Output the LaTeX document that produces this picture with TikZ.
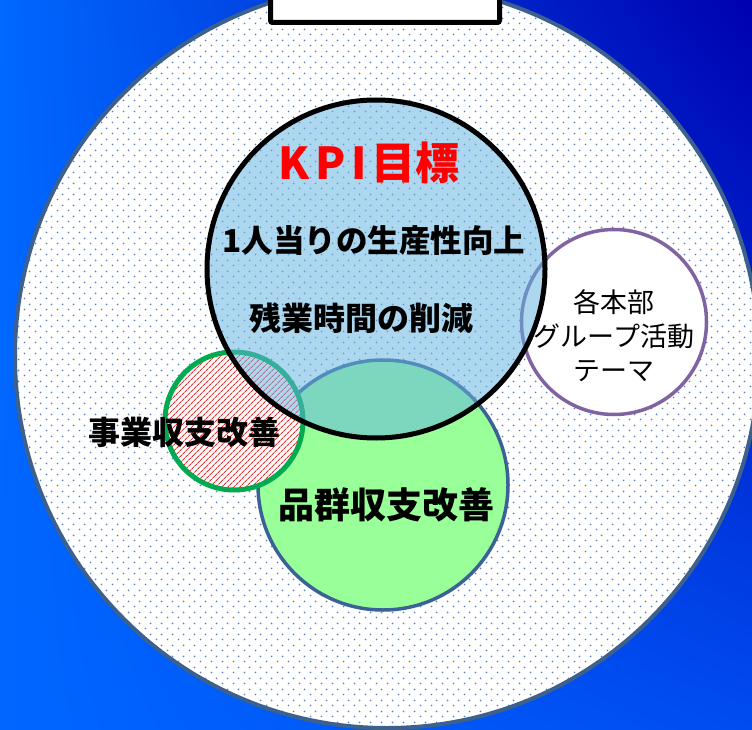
\documentclass[tikz,border=0pt]{standalone}
\usepackage{fontspec}
\newfontfamily\jp{Noto Sans CJK JP}
\usetikzlibrary{patterns.meta,shadings}
\definecolor{bgUL}{RGB}{0,104,255}
\definecolor{bgUR}{RGB}{0,0,175}
\definecolor{bgLL}{RGB}{0,102,255}
\definecolor{bgLR}{RGB}{0,76,240}
\definecolor{bigborder}{RGB}{62,96,140}
\definecolor{dotc}{RGB}{85,130,205}
\definecolor{kpifill}{RGB}{100,181,223}
\definecolor{grfill}{RGB}{153,255,153}
\definecolor{grborder}{RGB}{58,98,150}
\definecolor{rdborder}{RGB}{0,170,80}
\definecolor{hatch}{RGB}{245,40,40}
\definecolor{purp}{RGB}{128,100,162}
\pgfdeclarepattern{
  name=stagdots,
  type=uncolored,
  bottom left={\pgfpoint{0pt}{0pt}},
  top right={\pgfpoint{11pt}{11pt}},
  tile size={\pgfpoint{11pt}{11pt}},
  code={
    \pgfpathcircle{\pgfpoint{2.75pt}{2.75pt}}{1.05pt}
    \pgfpathcircle{\pgfpoint{8.25pt}{8.25pt}}{1.05pt}
    \pgfusepath{fill}
  }
}
\tikzset{
  boldtxt/.style={font=\jp\bfseries\fontsize{#1}{#1}\selectfont, text=black, inner sep=0pt},
  regtxt/.style={font=\jp\fontsize{#1}{34}\selectfont, text=black, inner sep=0pt, align=center},
}
\begin{document}
\begin{tikzpicture}[x=1pt,y=-1pt]
\useasboundingbox (0,0) rectangle (752,730);
\clip (0,0) rectangle (752,730);
% background
\shade[upper left=bgUL, upper right=bgUR, lower left=bgLL, lower right=bgLR] (0,0) rectangle (752,730);
% big circle
\fill[white] (387,356) circle[radius=372];
\fill[pattern=stagdots, pattern color=dotc] (387,356) circle[radius=372];
\draw[bigborder, line width=4] (387,356) circle[radius=372];
% top box
\draw[black, fill=white, line width=5, rounded corners=2] (270.5,-10) rectangle (499.5,22.5);
% green circle
\draw[grborder, fill=grfill, line width=3.5] (383,485) circle[radius=125];
% red hatched circle
\fill[white] (234,421) circle[radius=69];
\fill[pattern={Lines[angle=45, distance=4pt, line width=1pt]}, pattern color=hatch] (234,421) circle[radius=69];
\draw[rdborder, line width=5] (234,421) circle[radius=69];
% purple circle
\draw[purp, fill=white, line width=3.5] (614,322) circle[radius=92.5];
% KPI circle
\fill[kpifill, fill opacity=0.53] (376,269) circle[radius=169];
\draw[black, line width=5] (376,269) circle[radius=169];
% texts
\node[font=\jp\bfseries\fontsize{44}{44}\selectfont, text=red, inner sep=0pt] (kpi) at (369,163) {K\kern6pt P\kern6pt I\kern5pt 目標};
\node[boldtxt=31.5] (l1) at (374,241) {1人当りの生産性向上};
\node[boldtxt=32] (l2) at (361,318) {残業時間の削減};
\node[boldtxt=32] (jg) at (184,432) {事業収支改善};
\node[boldtxt=36] (hg) at (386,505) {品群収支改善};
\node[regtxt=27] (kh) at (614,336) {各本部\\グループ活動\\テーマ};
\end{tikzpicture}
\end{document}
